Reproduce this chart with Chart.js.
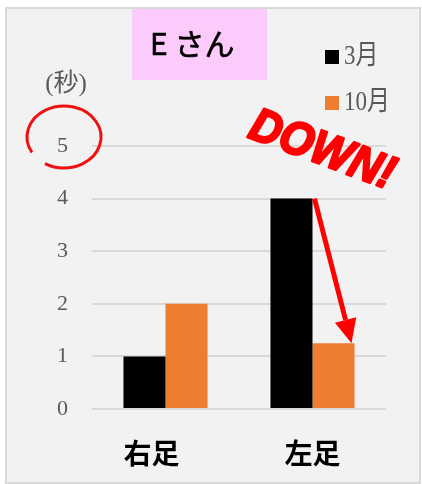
<!DOCTYPE html>
<html>
<head>
<meta charset="utf-8">
<script src="https://cdn.jsdelivr.net/npm/chart.js@4.4.0/dist/chart.umd.min.js"></script>
<style>
  html, body { margin: 0; padding: 0; background: #fff; }
  #frame {
    position: absolute; left: 5px; top: 7px; width: 416px; height: 477px;
    box-sizing: border-box; border: 2px solid #d9d9d9; background: #f2f2f2;
  }
  #wrap { position: absolute; left: 0; top: 0; width: 422px; height: 484px; }
</style>
</head>
<body>
<div id="frame"></div>
<div id="wrap"><canvas id="chart" width="422" height="484"></canvas></div>
<script>
// Chart data
const categories = ['右足　', '左足'];
const seriesNames = ['3月', '10月'];
const march = [1, 4];
const october = [2, 1.25];
const yTicks = [0, 1, 2, 3, 4, 5];

// Colors / fonts
const black = '#000000';
const orange = '#ed7d31';
const gridColor = '#d9d9d9';
const tickColor = '#595959';
const serif = "'Liberation Serif', 'Noto Sans CJK JP', serif";
const gothic = "'Noto Sans CJK JP', sans-serif";

// Title box, legend, y unit and the hand-drawn notes
const decorations = {
    id: 'decorations',
    beforeDatasetsDraw(chart) {
        const c = chart.ctx;
        c.save();
        // title box
        c.fillStyle = '#fccbfc';
        c.fillRect(132, 9, 135, 71);
        c.fillStyle = '#000';
        c.strokeStyle = '#000';
        c.lineWidth = 0.6;
        c.font = '30px ' + gothic;
        c.textAlign = 'left';
        c.textBaseline = 'middle';
        c.fillText('E さん', 150, 44);
        c.strokeText('E さん', 150, 44);

        // legend (tall, narrow serif like the original)
        const colors = [black, orange];
        const rows = [57, 103];
        seriesNames.forEach((name, i) => {
            c.fillStyle = colors[i];
            c.fillRect(325, rows[i] - 7, 14, 14);
            c.save();
            c.translate(344, rows[i]);
            c.scale(1, 1.2);
            c.font = '23px ' + serif;
            c.fillStyle = tickColor;
            c.fillText(name, 0, 0);
            c.restore();
        });

        // unit
        c.font = '25px ' + serif;
        c.fillStyle = tickColor;
        c.textAlign = 'center';
        c.fillText('(秒)', 66, 84);
        c.restore();
    },
    afterDraw(chart) {
        const c = chart.ctx;
        const y = chart.scales.y;
        c.save();

        // red circle around the top tick
        c.strokeStyle = '#ee1111';
        c.lineWidth = 3;
        c.beginPath();
        c.ellipse(64, y.getPixelForValue(5) - 9, 37, 31, 0,
            150 * Math.PI / 180, (121 + 360) * Math.PI / 180);
        c.stroke();

        // DOWN!
        c.fillStyle = '#ff0000';
        c.strokeStyle = '#ff0000';
        c.lineWidth = 2.5;
        c.lineJoin = 'round';
        c.translate(322, 151);
        c.rotate(20.5 * Math.PI / 180);
        c.scale(0.92, 1);
        c.font = "italic bold 47px 'Liberation Sans', sans-serif";
        c.textAlign = 'center';
        c.textBaseline = 'middle';
        c.fillText('DOWN!', 0, 0);
        c.strokeText('DOWN!', 0, 0);
        c.setTransform(1, 0, 0, 1, 0, 0);

        // arrow from march bar to october bar (left foot)
        const a = chart.getDatasetMeta(0).data[1];
        const b = chart.getDatasetMeta(1).data[1];
        const x0 = a.x + a.width / 2 + 2, y0 = a.y;
        const x1 = b.x + 18, y1 = b.y;
        const ang = Math.atan2(y1 - y0, x1 - x0);
        const head = 24, half = 11;
        const bx = x1 - head * Math.cos(ang), by = y1 - head * Math.sin(ang);
        c.strokeStyle = '#ff0000';
        c.lineWidth = 5;
        c.beginPath();
        c.moveTo(x0, y0);
        c.lineTo(bx, by);
        c.stroke();
        c.beginPath();
        c.moveTo(x1, y1);
        c.lineTo(bx + half * Math.sin(ang), by - half * Math.cos(ang));
        c.lineTo(bx - half * Math.sin(ang), by + half * Math.cos(ang));
        c.closePath();
        c.fill();
        c.restore();
    }
};

const data = {
    labels: categories,
    datasets: [
        { label: seriesNames[0], data: march, backgroundColor: black },
        { label: seriesNames[1], data: october, backgroundColor: orange }
    ]
};

const config = {
    type: 'bar',
    data: data,
    options: {
        responsive: false,
        animation: false,
        layout: { padding: { top: 146, right: 36, left: 0, bottom: 0 } },
        datasets: { bar: { categoryPercentage: 0.572, barPercentage: 1 } },
        plugins: {
            legend: { display: false },
            title: { display: false },
            tooltip: { enabled: false }
        },
        scales: {
            x: {
                grid: { display: false },
                border: { display: false },
                ticks: {
                    color: '#000',
                    padding: 20,
                    font: { family: gothic, size: 28, weight: 'bold' }
                },
                afterFit(scale) { scale.height = 75; }
            },
            y: {
                min: 0,
                max: 5,
                afterBuildTicks(scale) { scale.ticks = yTicks.map(v => ({ value: v })); },
                grid: { color: gridColor, lineWidth: 2, drawTicks: false },
                border: { display: false },
                ticks: {
                    color: tickColor,
                    padding: 24,
                    font: { family: serif, size: 22 }
                },
                afterFit(scale) { scale.width = 92; }
            }
        }
    },
    plugins: [decorations]
};

var myChart = new Chart(document.getElementById('chart'), config);
</script>
</body>
</html>
